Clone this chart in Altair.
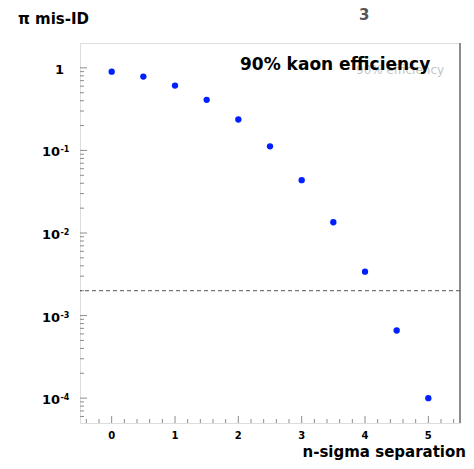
import altair as alt
import pandas as pd
import numpy as np

# ---- data ----
nsigma = [0, 0.5, 1, 1.5, 2, 2.5, 3, 3.5, 4, 4.5, 5]
misid = [0.90, 0.785, 0.61, 0.41, 0.237, 0.112, 0.0436, 0.0135, 0.0034, 0.00066, 0.0001]
threshold = [0.002]
y_decades = [1, 0.1, 0.01, 0.001, 0.0001]
y_exps = ["-1", "-2", "-3", "-4"]
x_major = [0, 1, 2, 3, 4, 5]
x_labels = ["0", "1", "2", "3", "4", "5"]

W, H = 380, 380
FONT = "DejaVu Sans"
GREY = "#8c8c8c"

xscale = alt.Scale(domain=[-0.5, 5.5], nice=False, zero=False)
yscale = alt.Scale(type="log", domain=[5e-5, 2], nice=False)

# minor ticks (axis decoration)
y_minor = [m * 10.0 ** k for k in range(-5, 1) for m in range(2, 10)
           if 5e-5 < m * 10.0 ** k < 2]
x_minor = [round(v, 1) for v in np.arange(-0.4, 5.5, 0.2) if abs(v - round(v)) > 1e-6]

pts = alt.Chart(pd.DataFrame({"n": nsigma, "p": misid})).mark_point(
    filled=True, size=40, color="#0020ff", opacity=1
).encode(
    x=alt.X("n:Q", scale=xscale, axis=None),
    y=alt.Y("p:Q", scale=yscale, axis=None),
)

dash = alt.Chart(pd.DataFrame({"t": threshold})).mark_rule(
    color="#555555", strokeDash=[4, 3], strokeWidth=1
).encode(y=alt.Y("t:Q", scale=yscale, axis=None))

ymaj = alt.Chart(pd.DataFrame({"v": y_decades})).mark_rule(color=GREY).encode(
    x=alt.value(0), x2=alt.value(7), y=alt.Y("v:Q", scale=yscale, axis=None))
ymin = alt.Chart(pd.DataFrame({"v": y_minor})).mark_rule(color=GREY).encode(
    x=alt.value(0), x2=alt.value(4), y=alt.Y("v:Q", scale=yscale, axis=None))
xmaj = alt.Chart(pd.DataFrame({"v": x_major})).mark_rule(color=GREY).encode(
    y=alt.value(H), y2=alt.value(H - 7), x=alt.X("v:Q", scale=xscale, axis=None))
xmin = alt.Chart(pd.DataFrame({"v": x_minor})).mark_rule(color=GREY).encode(
    y=alt.value(H), y2=alt.value(H - 4), x=alt.X("v:Q", scale=xscale, axis=None))
right_edge = alt.Chart(pd.DataFrame({"v": [0]})).mark_rule(color=GREY, strokeWidth=2).encode(
    x=alt.value(W), y=alt.value(0), y2=alt.value(H))

# y tick labels
one_lbl = alt.Chart(pd.DataFrame({"v": y_decades[:1], "t": ["1"]})).mark_text(
    font=FONT, fontWeight="bold", fontSize=13, align="right", baseline="middle", dy=2
).encode(x=alt.value(-16), y=alt.Y("v:Q", scale=yscale, axis=None), text="t:N")
ten_lbl = alt.Chart(pd.DataFrame({"v": y_decades[1:], "t": ["10"] * 4})).mark_text(
    font=FONT, fontWeight="bold", fontSize=13, align="right", baseline="middle", dy=2
).encode(x=alt.value(-20), y=alt.Y("v:Q", scale=yscale, axis=None), text="t:N")
exp_lbl = alt.Chart(pd.DataFrame({"v": y_decades[1:], "t": y_exps})).mark_text(
    font=FONT, fontWeight="bold", fontSize=8, align="left", baseline="top", dy=-4
).encode(x=alt.value(-19.5), y=alt.Y("v:Q", scale=yscale, axis=None), text="t:N")

x_lbl = alt.Chart(pd.DataFrame({"v": x_major, "t": x_labels})).mark_text(
    font=FONT, fontWeight="bold", fontSize=10, align="center", baseline="middle"
).encode(x=alt.X("v:Q", scale=xscale, axis=None), y=alt.value(H + 13), text="t:N")

def label(txt, x, y, size, weight="bold", color="black", align="left", baseline="middle"):
    return alt.Chart(pd.DataFrame({"t": [txt]})).mark_text(
        font=FONT, fontWeight=weight, fontSize=size, color=color,
        align=align, baseline=baseline
    ).encode(x=alt.value(x), y=alt.value(y), text="t:N")

title = label("π mis-ID", -62, -24, 15)
xtitle = label("n-sigma separation", 386, 414, 15, align="right", baseline="alphabetic")
ann_faint = label("90% efficiency", 276, 27, 12, weight="normal", color="#c4c4c4")
ann = label("90% kaon efficiency", 160, 22, 17)
page_no = label("3", 279, -28, 15, color="#555555")

chart = alt.layer(
    ymin, ymaj, xmin, xmaj, right_edge, dash, pts, one_lbl, ten_lbl, exp_lbl, x_lbl,
    title, xtitle, ann_faint, ann, page_no
).properties(
    width=W, height=H,
    autosize=alt.AutoSizeParams(type="none"),
    padding={"left": 72, "top": 35, "right": 6, "bottom": 38},
).configure_view(stroke=GREY, strokeWidth=1).configure(background="white")

chart.save("out.html", embed_options={"renderer": "svg", "actions": False})
